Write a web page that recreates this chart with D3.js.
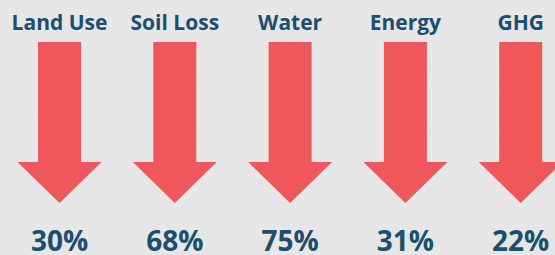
<!DOCTYPE html>
<html>
<head>
<meta charset="utf-8">
<script src="https://cdn.jsdelivr.net/npm/d3@7"></script>
<style>
  html, body { margin: 0; padding: 0; background: #e8e8e8; }
  svg { display: block; }
</style>
</head>
<body>
<div id="chart"></div>
<script>
const categories = ['Land Use', 'Soil Loss', 'Water', 'Energy', 'GHG'];
const reductions = [30, 68, 75, 31, 22];

const width = 555, height = 255;

const svg = d3.select('#chart')
    .append('svg')
    .attr('width', width)
    .attr('height', height);

// paper-ish texture on the grey background
const defs = svg.append('defs');
const grain = defs.append('filter').attr('id', 'grain')
    .attr('x', 0).attr('y', 0).attr('width', '100%').attr('height', '100%');
grain.append('feTurbulence')
    .attr('type', 'fractalNoise')
    .attr('baseFrequency', '0.9 0.35')
    .attr('numOctaves', 2)
    .attr('seed', 3)
    .attr('result', 'noise');
grain.append('feColorMatrix')
    .attr('type', 'matrix')
    .attr('values', '0 0 0 0 0.5  0 0 0 0 0.5  0 0 0 0 0.5  0 0 0 0.07 0');

svg.append('rect').attr('width', width).attr('height', height).attr('fill', '#e8e8e8');
svg.append('rect').attr('width', width).attr('height', height).attr('filter', 'url(#grain)');

const x = d3.scalePoint()
    .domain(categories)
    .range([59.5, 520.7]);

// arrow shape, relative to its centre line
const shaftW = 43, headW = 84, shaftTop = 42, headTop = 162, tip = 203;
const arrow = d3.line()([
    [-shaftW / 2, shaftTop], [shaftW / 2, shaftTop], [shaftW / 2, headTop],
    [headW / 2, headTop], [0, tip], [-headW / 2, headTop], [-shaftW / 2, headTop]
]) + 'Z';

const g = svg.selectAll('.item')
    .data(categories)
    .join('g')
    .attr('class', 'item')
    .attr('transform', d => `translate(${x(d)},0)`);

g.append('path')
    .attr('d', arrow)
    .attr('fill', '#f0575a');

g.append('text')
    .attr('y', 30)
    .attr('text-anchor', 'middle')
    .attr('font-family', 'Open Sans')
    .attr('font-weight', 700)
    .attr('font-size', 21)
    .attr('fill', '#1b4f6f')
    .text(d => d);

g.append('text')
    .attr('y', 251)
    .attr('text-anchor', 'middle')
    .attr('font-family', 'Open Sans')
    .attr('font-weight', 700)
    .attr('font-size', 28)
    .attr('fill', '#1b4f6f')
    .text((d, i) => reductions[i] + '%');
</script>
</body>
</html>
